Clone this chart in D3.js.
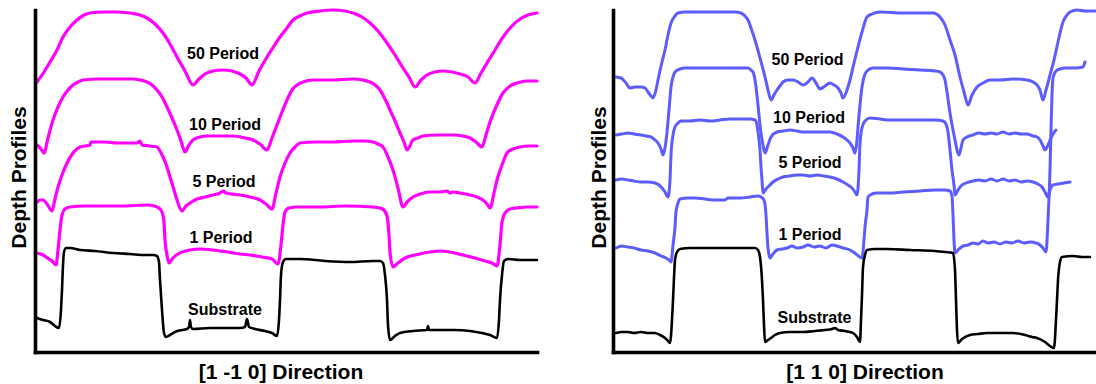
<!DOCTYPE html>
<html>
<head>
<meta charset="utf-8">
<script src="https://cdn.jsdelivr.net/npm/d3@7"></script>
<style>
  html, body { margin: 0; padding: 0; background: #fff; }
  svg { display: block; }
</style>
</head>
<body>
<svg id="chart" width="1096" height="384"></svg>
<script>
// profile names, top to bottom
const profileNames = ['50 Period', '10 Period', '5 Period', '1 Period', 'Substrate']
const directionTitles = ['[1 -1 0] Direction', '[1 1 0] Direction']
const yTitle = 'Depth Profiles'

// [1 -1 0] profiles, [lateral position, height] in arbitrary units
const left50 = [[0.2,27.0],[0.9,28.0],[1.5,29.0],[2.2,30.2],[2.8,31.5],[3.5,32.5],[4.2,33.2],[4.9,33.7],[5.5,33.9],[6.8,34.0],[8.0,34.0],[9.5,33.9],[10.5,33.7],[11.2,33.4],[12.0,32.8],[12.8,31.9],[13.5,30.8],[14.2,29.5],[15.0,28.1],[15.8,26.7],[16.4,27.3],[17.0,27.8],[17.8,28.1],[18.8,28.2],[19.7,28.1],[20.5,27.8],[21.1,27.4],[21.7,26.7],[22.4,28.1],[23.2,29.5],[23.9,30.6],[24.5,31.5],[25.2,32.4],[25.8,33.2],[26.5,33.6],[27.2,33.9],[28.5,34.1],[29.8,34.2],[31.0,34.1],[31.8,33.9],[32.7,33.5],[33.5,32.9],[34.3,32.1],[35.2,30.9],[36.0,29.7],[36.8,28.4],[37.4,27.5],[38.0,26.5],[38.6,27.2],[39.2,27.7],[40.0,28.0],[40.8,28.1],[41.7,28.0],[42.5,27.8],[43.3,27.5],[44.0,26.9],[44.6,27.9],[45.2,28.9],[46.0,30.2],[46.8,31.5],[47.6,32.5],[48.5,33.3],[49.3,33.7],[50.2,33.9]]
const left10 = [[0.2,20.7],[0.6,20.3],[0.9,19.9],[1.3,21.4],[1.8,23.2],[2.3,24.5],[2.8,25.5],[3.3,26.2],[3.8,26.7],[4.3,27.0],[4.8,27.2],[6.5,27.3],[8.2,27.3],[9.8,27.3],[10.5,27.2],[11.2,27.0],[11.7,26.7],[12.2,26.2],[12.7,25.5],[13.2,24.5],[13.7,23.4],[14.2,22.2],[14.6,21.1],[15.0,20.0],[15.4,20.7],[15.8,21.2],[16.5,21.5],[17.2,21.6],[18.5,21.6],[19.8,21.6],[21.0,21.4],[21.8,21.2],[22.5,20.8],[23.2,20.2],[23.7,21.4],[24.2,22.7],[24.7,24.0],[25.2,25.2],[25.7,26.2],[26.2,26.7],[26.8,27.0],[27.8,27.2],[29.8,27.2],[31.8,27.3],[32.8,27.2],[33.5,27.0],[34.0,26.7],[34.5,26.2],[35.0,25.3],[35.5,24.2],[36.0,23.1],[36.5,21.9],[36.9,21.0],[37.2,20.2],[37.8,21.2],[38.3,21.4],[38.8,21.6],[40.3,21.7],[41.8,21.7],[42.8,21.6],[43.5,21.4],[44.1,21.0],[44.7,20.5],[45.1,21.7],[45.5,23.0],[46.1,24.5],[46.8,25.9],[47.5,26.6],[48.2,26.9],[49.2,27.1],[50.2,27.1]]
const left5 = [[0.2,15.0],[0.5,15.2],[0.8,15.2],[1.2,14.8],[1.7,14.1],[2.0,15.3],[2.3,16.5],[2.7,17.7],[3.2,18.9],[3.8,19.9],[4.5,20.5],[5.0,20.6],[5.5,20.7],[5.6,21.0],[6.0,21.0],[7.0,21.0],[8.2,20.9],[9.2,20.9],[10.2,20.9],[10.5,21.1],[10.7,20.7],[11.5,20.6],[12.2,20.5],[12.5,20.1],[12.8,19.5],[13.2,18.5],[13.5,17.5],[13.9,16.2],[14.2,15.2],[14.7,14.1],[15.1,14.6],[15.5,14.9],[16.2,15.3],[17.0,15.5],[17.8,15.7],[18.5,15.9],[18.8,16.1],[19.1,15.9],[20.5,15.7],[21.5,15.5],[22.5,15.2],[23.1,14.8],[23.7,14.3],[24.1,15.9],[24.5,17.5],[25.0,18.9],[25.5,19.9],[26.0,20.5],[26.5,20.9],[28.0,21.0],[29.8,21.0],[31.8,21.1],[33.0,21.1],[33.8,21.0],[34.3,20.8],[34.8,20.5],[35.3,19.5],[35.8,18.2],[36.3,16.4],[36.8,14.5],[37.3,15.1],[37.8,15.5],[38.5,15.8],[39.5,16.0],[40.5,16.0],[41.2,16.1],[41.5,15.9],[41.8,16.0],[42.5,15.9],[43.5,15.7],[44.2,15.5],[44.8,15.2],[45.2,14.8],[45.5,14.4],[45.9,15.9],[46.2,17.2],[46.7,18.7],[47.2,19.9],[47.8,20.3],[48.5,20.5],[49.3,20.6],[50.2,20.6]]
const left1 = [[0.2,9.9],[0.8,9.7],[1.4,9.3],[1.8,9.0],[2.1,8.7],[2.3,10.2],[2.5,12.2],[2.7,13.7],[3.0,14.3],[3.5,14.5],[5.0,14.6],[6.5,14.6],[8.7,14.6],[11.2,14.7],[11.9,14.6],[12.4,14.4],[12.7,14.0],[12.9,13.0],[13.0,11.2],[13.2,9.7],[13.4,8.9],[13.8,9.4],[14.3,9.8],[14.7,10.0],[15.1,10.1],[15.5,10.2],[16.5,10.3],[17.8,10.2],[19.2,10.0],[20.5,9.8],[21.5,9.7],[22.7,9.5],[23.7,9.3],[24.3,8.8],[24.6,10.7],[24.8,12.7],[25.0,14.0],[25.4,14.4],[26.2,14.5],[28.5,14.5],[31.0,14.6],[33.8,14.5],[34.5,14.4],[34.9,14.2],[35.2,13.6],[35.4,11.7],[35.5,10.0],[35.8,8.5],[36.3,8.9],[37.0,9.4],[38.0,9.7],[39.5,10.0],[40.5,10.1],[41.5,10.0],[42.8,9.7],[44.0,9.4],[45.0,9.1],[45.7,8.9],[46.2,8.6],[46.5,10.7],[46.7,13.0],[47.0,13.9],[47.5,14.3],[48.2,14.4],[49.2,14.5],[50.2,14.5]]
const leftSubstrate = [[0.2,3.4],[0.8,3.2],[1.5,3.0],[2.0,2.6],[2.4,2.4],[2.6,4.2],[2.7,6.2],[2.8,8.7],[2.9,10.0],[3.1,10.4],[3.5,10.4],[4.5,10.2],[6.0,10.1],[7.8,9.9],[9.5,9.8],[11.0,9.7],[11.8,9.7],[12.2,9.6],[12.4,9.0],[12.5,7.2],[12.7,4.2],[12.9,1.9],[13.1,1.5],[13.5,1.7],[14.0,2.0],[14.7,2.2],[15.2,2.3],[15.4,2.5],[15.5,3.2],[15.6,2.5],[15.8,2.3],[17.5,2.4],[19.0,2.4],[20.5,2.4],[21.0,2.5],[21.2,3.3],[21.4,2.5],[22.0,2.3],[23.0,2.1],[23.7,1.9],[24.2,1.6],[24.4,3.2],[24.5,5.2],[24.6,7.7],[24.8,9.0],[25.1,9.3],[26.5,9.3],[29.0,9.1],[31.5,9.0],[33.8,9.1],[34.5,9.1],[34.8,8.9],[35.0,7.7],[35.2,5.2],[35.3,2.7],[35.5,1.2],[36.0,1.6],[36.5,1.9],[37.8,2.1],[39.2,2.2],[39.3,2.6],[39.4,2.2],[40.5,2.2],[42.0,2.2],[43.5,2.1],[44.7,1.9],[45.5,1.7],[46.2,1.4],[46.4,3.2],[46.5,5.2],[46.7,7.7],[46.9,9.1],[47.3,9.3],[48.5,9.2],[50.2,9.2]]

// [1 1 0] profiles
const right50 = [[0.3,27.5],[0.8,27.4],[1.3,26.9],[1.7,26.4],[2.2,26.5],[2.8,26.5],[3.2,26.4],[3.5,26.0],[3.8,25.6],[4.0,25.4],[4.3,26.2],[4.5,27.2],[4.9,29.0],[5.2,30.2],[5.5,31.7],[5.8,32.9],[6.2,33.6],[6.5,33.9],[7.2,34.0],[8.7,34.0],[11.2,34.0],[12.2,34.0],[12.8,33.9],[13.2,33.6],[13.5,33.2],[13.8,32.4],[14.2,31.2],[14.7,29.4],[15.2,27.5],[15.5,26.2],[15.8,25.2],[16.1,25.7],[16.4,26.2],[16.7,26.6],[17.0,27.0],[17.5,27.2],[18.0,27.2],[18.5,27.0],[19.0,26.7],[19.5,27.0],[19.9,27.4],[20.3,26.9],[20.7,26.3],[21.2,26.6],[21.7,26.9],[22.1,26.7],[22.5,26.4],[22.8,25.9],[23.0,25.4],[23.4,26.2],[23.7,27.2],[24.1,28.9],[24.5,30.5],[24.9,32.0],[25.4,33.5],[25.9,33.8],[26.7,34.0],[29.0,33.9],[30.7,33.9],[32.0,33.9],[32.7,33.5],[33.2,32.7],[33.7,31.2],[34.2,29.7],[34.7,27.5],[35.1,26.0],[35.5,24.7],[35.9,25.7],[36.4,26.5],[37.0,26.9],[37.7,27.2],[38.7,27.2],[40.0,27.3],[41.4,27.2],[42.0,27.0],[42.4,26.7],[42.7,26.2],[43.0,25.2],[43.3,26.2],[43.7,27.7],[44.1,29.2],[44.5,31.0],[45.0,33.0],[45.4,33.7],[45.7,34.0],[46.4,34.2],[47.2,34.1],[48.2,34.1]]
const right10 = [[0.3,21.7],[0.9,21.8],[1.5,21.9],[2.1,21.8],[2.8,21.7],[3.3,21.6],[3.8,21.5],[4.2,21.2],[4.5,20.9],[4.8,20.3],[5.0,19.7],[5.2,20.4],[5.4,22.0],[5.6,24.2],[5.8,26.5],[6.0,27.5],[6.2,28.0],[6.7,28.3],[7.2,28.4],[8.7,28.4],[10.7,28.4],[12.2,28.4],[13.5,28.4],[13.8,28.2],[14.0,28.0],[14.2,27.2],[14.3,26.5],[14.5,24.7],[14.7,22.7],[14.8,21.9],[15.0,20.7],[15.2,19.9],[15.5,20.7],[15.8,21.5],[16.4,22.0],[17.0,22.1],[17.7,22.2],[18.4,22.1],[19.0,22.0],[19.7,22.0],[20.7,22.0],[21.7,22.0],[22.4,21.8],[23.0,21.5],[23.4,21.2],[23.7,20.9],[24.0,20.4],[24.2,19.9],[24.4,21.2],[24.5,22.5],[24.7,24.7],[24.9,26.5],[25.1,27.5],[25.4,28.1],[26.0,28.4],[27.5,28.4],[29.0,28.3],[30.7,28.2],[32.2,28.1],[32.7,28.0],[33.0,27.7],[33.2,27.2],[33.4,26.0],[33.7,23.9],[34.0,22.2],[34.2,21.2],[34.4,20.2],[34.6,19.7],[34.8,20.4],[35.0,21.2],[35.4,21.5],[36.0,21.7],[36.6,21.9],[37.2,21.8],[37.8,21.9],[38.4,21.8],[39.0,22.0],[39.6,21.8],[40.2,21.9],[40.8,21.8],[41.4,21.8],[42.0,21.6],[42.4,21.5],[42.7,21.2],[43.0,20.6],[43.2,20.2],[43.5,20.7],[43.8,21.4],[44.0,21.8],[44.3,22.2]]
const right5 = [[0.3,17.2],[0.9,17.3],[1.5,17.2],[2.1,17.1],[2.8,17.0],[3.5,17.0],[4.2,16.9],[4.6,16.7],[4.9,16.4],[5.2,16.0],[5.5,15.5],[5.7,17.2],[5.8,19.7],[6.0,21.7],[6.2,22.5],[6.5,22.9],[6.8,23.1],[7.7,23.1],[8.7,23.2],[9.7,23.1],[10.7,23.2],[11.7,23.3],[12.8,23.3],[13.7,23.3],[14.2,23.2],[14.4,22.7],[14.5,22.0],[14.7,20.2],[14.8,18.5],[14.9,17.2],[15.0,15.9],[15.3,16.3],[15.6,16.6],[16.0,17.0],[16.5,17.3],[17.0,17.5],[17.7,17.6],[18.4,17.7],[19.0,17.7],[19.7,17.6],[20.4,17.7],[21.1,17.6],[21.7,17.5],[22.4,17.3],[23.0,17.0],[23.5,16.7],[23.9,16.4],[24.2,16.0],[24.4,15.7],[24.6,18.2],[24.7,20.9],[24.9,22.4],[25.2,23.1],[25.7,23.4],[26.7,23.3],[27.7,23.2],[29.0,23.2],[30.7,23.2],[32.2,23.2],[33.0,23.1],[33.3,22.8],[33.5,22.0],[33.7,20.2],[33.9,18.2],[34.1,16.7],[34.2,15.7],[34.5,16.2],[34.8,16.6],[35.3,16.9],[36.0,17.1],[36.6,17.2],[37.2,17.1],[37.8,17.3],[38.4,17.1],[39.0,17.3],[39.6,17.1],[40.2,17.2],[40.8,17.0],[41.4,17.1],[42.0,17.0],[42.5,16.8],[42.9,16.5],[43.2,16.0],[43.5,15.5],[43.7,16.2],[44.0,16.7],[44.5,16.8],[45.1,16.9],[45.7,17.0]]
const right1 = [[0.3,10.4],[0.9,10.6],[1.5,10.5],[2.1,10.4],[2.8,10.2],[3.5,10.1],[4.2,9.9],[4.8,9.6],[5.3,9.4],[5.6,9.2],[5.8,9.0],[6.0,10.7],[6.2,12.5],[6.3,14.0],[6.5,14.9],[6.7,15.3],[7.5,15.4],[8.2,15.4],[9.2,15.3],[10.2,15.2],[11.2,15.2],[11.5,15.4],[12.2,15.4],[12.8,15.4],[13.7,15.5],[14.5,15.6],[14.8,15.5],[15.1,15.2],[15.3,13.7],[15.4,11.9],[15.5,10.4],[15.7,9.4],[16.0,9.8],[16.4,10.2],[16.9,10.3],[17.4,10.4],[17.9,10.6],[18.4,10.4],[19.0,10.5],[19.5,10.7],[20.1,10.5],[20.7,10.6],[21.3,10.4],[21.9,10.7],[22.4,10.6],[23.0,10.4],[23.7,10.2],[24.3,9.8],[24.9,9.4],[25.1,11.2],[25.2,12.5],[25.4,14.2],[25.5,15.5],[25.9,15.8],[26.4,15.9],[27.7,15.9],[29.0,16.0],[30.7,16.1],[32.2,16.2],[33.2,16.2],[33.7,16.1],[33.9,15.6],[34.0,13.7],[34.1,11.2],[34.2,9.9],[34.5,10.2],[35.0,10.6],[35.5,10.7],[36.0,10.9],[36.5,10.8],[37.0,11.1],[37.5,10.9],[38.1,11.0],[38.7,10.8],[39.3,11.0],[39.9,10.9],[40.5,11.1],[41.1,10.9],[41.7,11.0],[42.3,10.9],[42.7,10.7],[43.0,10.4],[43.3,10.0],[43.5,13.2],[43.7,18.2],[43.8,22.2],[43.9,25.7],[44.0,27.4],[44.3,28.1],[44.7,28.3],[45.2,28.4],[46.2,28.4],[47.0,28.5],[47.2,29.0]]
const rightSubstrate = [[0.3,1.9],[0.9,2.0],[1.5,2.0],[2.1,1.9],[2.8,2.0],[3.5,1.9],[4.2,1.9],[4.7,1.7],[5.2,1.4],[5.5,1.1],[5.7,0.9],[5.9,3.2],[6.0,5.2],[6.1,7.4],[6.2,9.2],[6.4,10.0],[6.7,10.3],[7.7,10.4],[9.5,10.4],[11.7,10.4],[14.2,10.4],[14.5,10.2],[14.7,9.5],[14.9,7.2],[15.0,5.2],[15.1,2.7],[15.2,1.0],[15.5,1.2],[15.8,1.4],[16.2,1.7],[16.7,1.9],[17.7,2.0],[19.0,2.0],[20.2,2.1],[21.2,2.2],[21.9,2.3],[22.2,2.4],[22.5,2.2],[23.2,2.1],[23.7,2.0],[24.0,1.9],[24.4,1.5],[24.7,1.0],[24.8,3.2],[24.9,5.7],[25.0,8.5],[25.2,9.7],[25.4,10.2],[26.2,10.3],[27.4,10.3],[29.7,10.2],[32.2,10.1],[33.2,10.0],[34.0,9.9],[34.2,8.2],[34.3,5.2],[34.4,2.2],[34.5,0.9],[34.9,1.3],[35.7,1.7],[36.5,1.8],[37.4,1.9],[38.7,1.9],[40.0,1.9],[41.2,1.7],[41.9,1.5],[42.4,1.4],[43.2,1.0],[43.7,0.6],[44.1,0.4],[44.3,3.2],[44.4,5.2],[44.5,7.2],[44.7,9.0],[44.9,9.5],[46.0,9.6],[46.9,9.5],[47.7,9.5]]

const panels = [
  {
    series: [left50, left10, left5, left1, leftSubstrate],
    xDomain: [0, 50.2], xRange: [35, 537],
    color: '#ff00ff', width: 3.2,
    labelX: [18.8, 19.0, 18.9, 18.6, 19.0],
    labelY: [29.3, 22.2, 16.5, 10.9, 3.7],
    yTitleX: 26, xTitleX: 281
  },
  {
    series: [right50, right10, right5, right1, rightSubstrate],
    xDomain: [0, 48.3], xRange: [613, 1096],
    color: '#5c5cff', width: 3,
    labelX: [19.45, 19.6, 19.7, 19.7, 20.15],
    labelY: [28.7, 22.95, 18.4, 11.2, 2.9],
    yTitleX: 606, xTitleX: 865
  }
]

const svg = d3.select('#chart')
const font = "'Liberation Sans', Arial, sans-serif"

const y = d3.scaleLinear().domain([0, 34.2]).range([352, 10])

panels.forEach((p, i) => {
  const x = d3.scaleLinear().domain(p.xDomain).range(p.xRange)
  const g = svg.append('g')

  const line = d3.line()
    .x((d) => x(d[0]))
    .y((d) => y(d[1]))
    .curve(d3.curveMonotoneX)

  // profiles, substrate last and in black
  p.series.forEach((s, j) => {
    const isSub = j === p.series.length - 1
    g.append('path')
      .datum(s)
      .attr('fill', 'none')
      .attr('stroke', isSub ? '#000' : p.color)
      .attr('stroke-width', isSub ? 2.6 : p.width)
      .attr('stroke-linejoin', 'round')
      .attr('stroke-linecap', 'round')
      .attr('d', line)
  })

  // labels for each profile
  g.selectAll('text.profile')
    .data(profileNames)
    .enter()
    .append('text')
    .attr('class', 'profile')
    .attr('x', (d, j) => x(p.labelX[j]))
    .attr('y', (d, j) => y(p.labelY[j]))
    .attr('text-anchor', 'middle')
    .attr('font-family', font)
    .attr('font-weight', 'bold')
    .attr('font-size', 16)
    .attr('fill', '#000')
    .text((d) => d)

  // axes: plain thick lines, no ticks
  const xAxis = g.append('g')
    .attr('transform', `translate(0,${y(0)})`)
    .call(d3.axisBottom(x).tickValues([]).tickSizeOuter(0))
  const yAxis = g.append('g')
    .attr('transform', `translate(${x(0)},0)`)
    .call(d3.axisLeft(y).tickValues([]).tickSizeOuter(0))
  ;[xAxis, yAxis].forEach((a) => {
    a.select('.domain')
      .attr('stroke', '#000')
      .attr('stroke-width', 3.6)
      .attr('stroke-linecap', 'square')
  })

  g.append('text')
    .attr('transform', `translate(${p.yTitleX},177.5) rotate(-90)`)
    .attr('text-anchor', 'middle')
    .attr('font-family', font)
    .attr('font-weight', 'bold')
    .attr('font-size', 21)
    .text(yTitle)

  g.append('text')
    .attr('x', p.xTitleX)
    .attr('y', 379)
    .attr('text-anchor', 'middle')
    .attr('font-family', font)
    .attr('font-weight', 'bold')
    .attr('font-size', 21)
    .text(directionTitles[i])
})
</script>
</body>
</html>
